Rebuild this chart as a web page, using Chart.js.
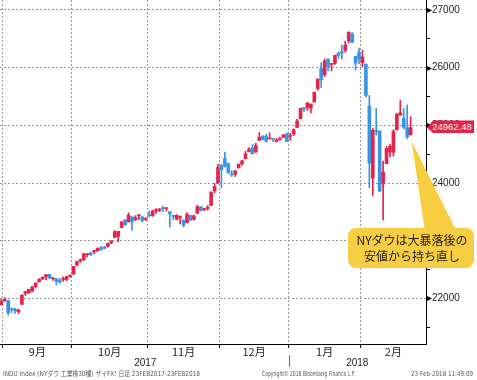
<!DOCTYPE html>
<html><head><meta charset="utf-8">
<script src="https://cdn.jsdelivr.net/npm/chart.js@4.4.1/dist/chart.umd.min.js"></script>
<style>html,body{margin:0;padding:0;background:#fff;overflow:hidden}canvas{display:block}</style>
</head><body>
<canvas id="c" width="477" height="380"></canvas>
<script>
const dates = [
 '2017-08-31',
 '2017-09-01','2017-09-05','2017-09-06','2017-09-07','2017-09-08','2017-09-11','2017-09-12','2017-09-13','2017-09-14','2017-09-15','2017-09-18','2017-09-19','2017-09-20','2017-09-21','2017-09-22','2017-09-25','2017-09-26','2017-09-27','2017-09-28','2017-09-29',
 '2017-10-02','2017-10-03','2017-10-04','2017-10-05','2017-10-06','2017-10-09','2017-10-10','2017-10-11','2017-10-12','2017-10-13','2017-10-16','2017-10-17','2017-10-18','2017-10-19','2017-10-20','2017-10-23','2017-10-24','2017-10-25','2017-10-26','2017-10-27','2017-10-30','2017-10-31',
 '2017-11-01','2017-11-02','2017-11-03','2017-11-06','2017-11-07','2017-11-08','2017-11-09','2017-11-10','2017-11-13','2017-11-14','2017-11-15','2017-11-16','2017-11-17','2017-11-20','2017-11-21','2017-11-22','2017-11-24','2017-11-27','2017-11-28','2017-11-29','2017-11-30',
 '2017-12-01','2017-12-04','2017-12-05','2017-12-06','2017-12-07','2017-12-08','2017-12-11','2017-12-12','2017-12-13','2017-12-14','2017-12-15','2017-12-18','2017-12-19','2017-12-20','2017-12-21','2017-12-22','2017-12-26','2017-12-27','2017-12-28','2017-12-29',
 '2018-01-02','2018-01-03','2018-01-04','2018-01-05','2018-01-08','2018-01-09','2018-01-10','2018-01-11','2018-01-12','2018-01-16','2018-01-17','2018-01-18','2018-01-19','2018-01-22','2018-01-23','2018-01-24','2018-01-25','2018-01-26','2018-01-29','2018-01-30','2018-01-31',
 '2018-02-01','2018-02-02','2018-02-05','2018-02-06','2018-02-07','2018-02-08','2018-02-09','2018-02-12','2018-02-13','2018-02-14','2018-02-15','2018-02-16','2018-02-20','2018-02-21','2018-02-22'
];
const open = [
 21892,
 21961,21961,21816,21817,21770,21899,22088,22099,22131,22206,22289,22338,22378,22418,22342,22339,22316,22330,22330,22387,
 22423,22581,22653,22675,22760,22790,22814,22828,22883,22874,22903,22965,23058,23077,23229,23361,23327,23414,23367,23433,23412,23372,
 23442,23433,23516,23526,23565,23559,23503,23436,23375,23403,23359,23312,23442,23372,23475,23591,23535,23561,23611,23866,24000,
 24305,24424,24335,24157,24153,24263,24335,24424,24547,24609,24545,24739,24814,24804,24766,24770,24715,24759,24796,24849,
 24809,24850,24964,25114,25309,25313,25296,25406,25639,25987,25878,26149,26057,26075,26250,26279,26298,26467,26583,26198,26268,
 26083,26061,25337,24085,24916,24902,23993,24337,24541,24535,24923,25177,25124,24959,24840
];
const high = [
 21990,
 22016,21970,21837,21834,21818,22068,22119,22160,22204,22269,22346,22370,22413,22419,22364,22349,22347,22374,22384,22405,
 22557,22642,22685,22777,22777,22805,22840,22873,22905,22905,22960,23002,23177,23163,23328,23368,23485,23415,23437,23452,23428,23399,
 23517,23531,23557,23564,23602,23563,23503,23441,23453,23432,23359,23487,23442,23445,23617,23591,23562,23611,23852,23996,24327,
 24328,24534,24349,24216,24222,24330,24396,24552,24614,24668,24690,24876,24823,24850,24872,24778,24778,24799,24839,24871,
 24864,24941,25105,25299,25311,25401,25370,25575,25804,26086,26153,26154,26072,26215,26273,26392,26459,26617,26609,26198,26338,
 26306,26062,25520,24946,25293,24903,24382,24640,24668,24925,25201,25433,25293,25353,25152
];
const low = [
 21892,
 21949,21709,21758,21743,21738,21899,22052,22086,22114,22181,22281,22328,22322,22341,22315,22233,22262,22296,22310,22367,
 22416,22566,22624,22657,22720,22742,22777,22810,22838,22858,22890,22950,23058,22982,23229,23270,23327,23181,23351,23366,23324,23350,
 23410,23424,23469,23504,23502,23513,23237,23364,23361,23294,23242,23312,23350,23358,23475,23516,23527,23530,23611,23833,24000,
 23922,24275,24167,24115,24114,24262,24306,24424,24547,24506,24526,24739,24745,24710,24766,24717,24715,24741,24785,24719,
 24741,24825,24963,25113,25236,25256,25215,25406,25609,25657,25847,25942,25943,26055,26160,26148,26264,26425,26435,25962,26065,
 26014,25490,23923,23778,24830,23850,23360,24337,24452,24466,24923,25177,24937,24771,24828
];
const close = [
 21948,
 21988,21753,21808,21785,21798,22057,22119,22158,22203,22268,22331,22371,22413,22359,22350,22296,22284,22341,22381,22405,
 22558,22642,22662,22775,22774,22761,22831,22873,22841,22872,22957,22997,23158,23163,23329,23274,23442,23329,23401,23434,23349,23377,
 23435,23516,23539,23548,23557,23563,23462,23422,23440,23409,23271,23458,23358,23430,23591,23526,23558,23581,23837,23941,24272,
 24232,24290,24181,24141,24211,24329,24386,24505,24585,24509,24652,24792,24755,24727,24782,24754,24746,24774,24838,24719,
 24824,24923,25075,25296,25283,25386,25369,25575,25803,25793,26116,26018,26072,26215,26211,26252,26393,26617,26439,26077,26149,
 26187,25521,24346,24913,24893,23860,24191,24601,24640,24893,25200,25219,24965,24798,24962.48
];
const monthLabels = ['9月','10月','11月','12月','1月','2月'];
const yearLabels = ['2017','2018'];
const yTickValues = [21500,22000,22500,23000,23500,24000,24500,25000,25500,26000,26500,27000];
const lastPriceLabel = '24962.48';
const calloutLines = ['NYダウは大暴落後の','安値から持ち直し'];
const footerLeft = 'INDU Index (NYダウ 工業株30種) ザイFX! 日足 23FEB2017-23FEB2018';
const footerMid = 'Copyright© 2018 Bloomberg Finance L.P.';
const footerRight = '23-Feb-2018 11:49:09';

const RED = '#e5234b', BLUE = '#3a95e6';
const X_MIN = -0.37, X_MAX = 123.47;
const idx = dates.map((d, i) => i);
const colors = idx.map(i => close[i] >= open[i] ? RED : BLUE);
const bounds = [];
for (let i = 1; i < dates.length; i++) if (dates[i].slice(0, 7) !== dates[i - 1].slice(0, 7)) bounds.push(i - 0.5);
const segs = [...bounds, X_MAX];
const labelMap = new Map();
bounds.forEach((b, k) => labelMap.set((b + segs[k + 1]) / 2, monthLabels[k]));
const boundSet = new Set(bounds);
const yearBound = bounds[monthLabels.indexOf('1月')];
const xTicks = [...bounds, ...labelMap.keys()].sort((a, b) => a - b);

const overlay = {
  id: 'overlay',
  afterDraw(chart) {
    const ctx = chart.ctx, xs = chart.scales.x, ys = chart.scales.y, a = chart.chartArea;
    ctx.save();
    ctx.fillStyle = '#000';
    yTickValues.filter(v => v % 1000 === 0).forEach(v => {
      const py = Math.round(ys.getPixelForValue(v)) + 0.5;
      ctx.beginPath(); ctx.moveTo(a.right, py - 3); ctx.lineTo(a.right + 6, py); ctx.lineTo(a.right, py + 3); ctx.closePath(); ctx.fill();
    });
    ctx.font = '10px "Liberation Sans", Arial, sans-serif';
    ctx.fillStyle = '#222'; ctx.textAlign = 'center'; ctx.textBaseline = 'middle';
    ctx.fillText(yearLabels[0], (xs.getPixelForValue(X_MIN) + xs.getPixelForValue(yearBound)) / 2 + 1, 363);
    ctx.fillText(yearLabels[1], (xs.getPixelForValue(yearBound) + xs.getPixelForValue(X_MAX)) / 2, 363);
    const yb = Math.round(xs.getPixelForValue(yearBound)) + 0.5;
    ctx.strokeStyle = '#777'; ctx.lineWidth = 1;
    ctx.beginPath(); ctx.moveTo(yb, 355); ctx.lineTo(yb, 367); ctx.stroke();
    ctx.font = '7px "DejaVu Sans", "Noto Sans CJK JP", sans-serif';
    ctx.fillStyle = '#555'; ctx.textAlign = 'left';
    ctx.fillText(footerLeft, 3, 374.5, 197);
    ctx.fillText(footerMid, 262, 374.5, 93);
    ctx.fillText(footerRight, 411, 374.5, 62);
    const py = ys.getPixelForValue(close[close.length - 1]);
    ctx.fillStyle = '#e32546';
    ctx.beginPath();
    ctx.moveTo(a.right + 1, py); ctx.lineTo(a.right + 7, py - 7); ctx.lineTo(474, py - 7);
    ctx.lineTo(474, py + 5.5); ctx.lineTo(a.right + 7, py + 5.5); ctx.closePath(); ctx.fill();
    ctx.fillStyle = '#fff'; ctx.font = '9.5px "Liberation Sans", Arial, sans-serif'; ctx.textAlign = 'center';
    ctx.fillText(lastPriceLabel, 452, py);
    const tipX = xs.getPixelForValue(idx.length - 1) + 1, tipY = ys.getPixelForValue(low[low.length - 1]) + 6;
    ctx.fillStyle = '#f7cd42';
    ctx.beginPath(); ctx.moveTo(tipX, tipY); ctx.lineTo(425, 232); ctx.lineTo(457, 232); ctx.closePath(); ctx.fill();
    ctx.beginPath(); ctx.roundRect(348, 228, 126, 40, 8); ctx.fill();
    ctx.fillStyle = '#222'; ctx.font = '12px "Noto Sans CJK JP", sans-serif'; ctx.textAlign = 'center';
    ctx.fillText(calloutLines[0], 412, 240.5);
    ctx.fillText(calloutLines[1], 412, 256.5);
    ctx.restore();
  }
};

new Chart(document.getElementById('c'), {
  type: 'bar',
  data: {
    datasets: [
      { label: 'wick', data: idx.map(i => ({ x: i, y: [low[i], high[i]] })), backgroundColor: colors,
        barThickness: 1, grouped: false, order: 2, minBarLength: 1 },
      { label: 'body', data: idx.map(i => ({ x: i, y: [open[i], close[i]] })), backgroundColor: colors,
        barThickness: 3, grouped: false, order: 1, minBarLength: 1 }
    ]
  },
  options: {
    responsive: false, animation: false, devicePixelRatio: 1,
    layout: { padding: 0 },
    plugins: { legend: { display: false }, tooltip: { enabled: false } },
    scales: {
      x: {
        type: 'linear', min: X_MIN, max: X_MAX, offset: false,
        afterBuildTicks: s => { s.ticks = xTicks.map(v => ({ value: v })); },
        afterFit: s => { s.height = 36; s.paddingLeft = 0; s.paddingRight = 0; },
        ticks: { autoSkip: false, maxRotation: 0, padding: -3, color: '#222',
          font: { size: 11, family: '"Noto Sans CJK JP", sans-serif' },
          callback: v => labelMap.get(v) || '' },
        grid: {
          offset: false,
          color: c => (c.tick && boundSet.has(c.tick.value)) ? '#9a9a9a' : 'rgba(0,0,0,0)',
          tickColor: c => (c.tick && boundSet.has(c.tick.value)) ? '#000' : 'rgba(0,0,0,0)',
          tickLength: 4, lineWidth: 1
        },
        border: { display: true, color: '#000', width: 1, dash: [2, 2] }
      },
      y: {
        position: 'right', min: 21211, max: 27173,
        afterBuildTicks: s => { s.ticks = yTickValues.map(v => ({ value: v })); },
        afterFit: s => { s.width = 51; s.paddingTop = 0; s.paddingBottom = 0; },
        ticks: { padding: 2, color: '#222', font: { size: 10, family: '"Liberation Sans", Arial, sans-serif' },
          callback: v => (v % 1000 === 0 ? String(v) : '') },
        grid: {
          color: c => (c.tick && c.tick.value % 1000 === 0) ? '#9a9a9a' : 'rgba(0,0,0,0)',
          tickColor: '#000', tickLength: 4, lineWidth: 1
        },
        border: { display: true, color: '#000', width: 1, dash: [2, 2] }
      }
    }
  },
  plugins: [overlay]
});
</script>
</body></html>
